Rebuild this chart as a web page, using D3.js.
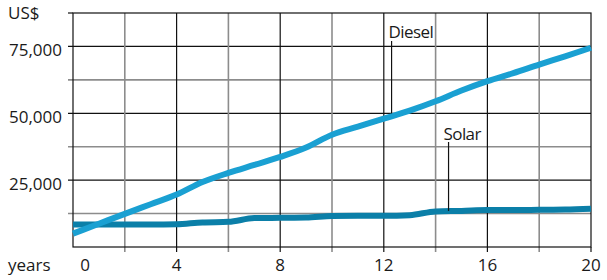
<!DOCTYPE html>
<html>
<head>
<meta charset="utf-8">
<script src="https://cdn.jsdelivr.net/npm/d3@7"></script>
<style>
  body { margin: 0; background: #fff; }
  text { font-family: 'Open Sans', sans-serif; fill: #1a1a1a; }
</style>
</head>
<body>
<div id="chart"></div>
<script>
const years = d3.range(0, 21)
const diesel = [5000, 8700, 12400, 16000, 19600, 24300, 27700, 30700, 33700, 37200, 42000,
  45000, 48000, 51000, 54500, 58500, 62000, 65000, 68200, 71300, 74500]
const solar = [8400, 8400, 8400, 8400, 8500, 9200, 9400, 10800, 10900, 11000, 11600,
  11700, 11700, 11900, 13300, 13500, 13800, 13800, 13900, 14000, 14300]
const yTicks = [25000, 50000, 75000]
const xTicks = [0, 4, 8, 12, 16, 20]

const margin = { top: 13, left: 73, right: 16, bottom: 33 }
const width = 607 - margin.left - margin.right
const height = 280 - margin.top - margin.bottom

const svg = d3
  .select('#chart')
  .append('svg')
  .attr('width', 607)
  .attr('height', 280)
  .append('g')
  .attr('transform', 'translate(' + margin.left + ',' + margin.top + ')')

const x = d3.scaleLinear().domain([0, 20]).range([0, width])
const y = d3.scaleLinear().domain([0, 87500]).range([height, 0])

// grid: labelled lines black, in-between ones grey
const major = '#111'
const minor = '#8c8c8c'
d3.range(12500, 87500, 12500).forEach(v => {
  const isMajor = yTicks.includes(v)
  svg.append('line')
    .attr('x1', -5).attr('x2', width)
    .attr('y1', y(v)).attr('y2', y(v))
    .attr('stroke', isMajor ? major : minor)
    .attr('stroke-width', isMajor ? 1.2 : 1.6)
})
d3.range(2, 20, 2).forEach(v => {
  const isMajor = xTicks.includes(v)
  svg.append('line')
    .attr('x1', x(v)).attr('x2', x(v))
    .attr('y1', 0).attr('y2', height + 5)
    .attr('stroke', isMajor ? major : minor)
    .attr('stroke-width', isMajor ? 1.2 : 1.6)
})

// frame
svg.append('rect')
  .attr('width', width).attr('height', height)
  .attr('fill', 'none').attr('stroke', major).attr('stroke-width', 1.2)
svg.append('line')
  .attr('x1', -5).attr('x2', 0).attr('y1', 0).attr('y2', 0)
  .attr('stroke', major).attr('stroke-width', 1.2)
svg.append('line')
  .attr('x1', width).attr('x2', width).attr('y1', height).attr('y2', height + 5)
  .attr('stroke', major).attr('stroke-width', 1.2)

// tick labels
svg.selectAll('.ylab')
  .data(yTicks)
  .enter()
  .append('text')
  .attr('x', -11)
  .attr('y', d => y(d) + 9.5)
  .attr('text-anchor', 'end')
  .style('font-size', '17px')
  .text(d => d3.format(',')(d))

svg.selectAll('.xlab')
  .data(xTicks)
  .enter()
  .append('text')
  .attr('x', d => (d === 0 ? x(d) + 12 : x(d)))
  .attr('y', height + 24)
  .attr('text-anchor', 'middle')
  .style('font-size', '17px')
  .text(d => d)

svg.append('text').attr('x', -65).attr('y', height + 24)
  .style('font-size', '17px').text('years')
svg.append('text').attr('x', -65).attr('y', 6)
  .style('font-size', '17px').text('US$')

// lines
const line = d3.line()
  .x((d, i) => x(years[i]))
  .y(d => y(d))
  .curve(d3.curveMonotoneX)

svg.append('path').datum(solar)
  .attr('d', line)
  .attr('fill', 'none')
  .attr('stroke', '#0b7fa8')
  .attr('stroke-width', 6)

svg.append('path').datum(diesel)
  .attr('d', line)
  .attr('fill', 'none')
  .attr('stroke', '#1aa0d2')
  .attr('stroke-width', 6)

// labels with pointers
svg.append('line')
  .attr('x1', x(12.3)).attr('x2', x(12.3))
  .attr('y1', 28).attr('y2', y(50000))
  .attr('stroke', '#111').attr('stroke-width', 1.2)
svg.append('text').attr('x', x(12.3) - 3).attr('y', 25)
  .style('font-size', '17px').style('letter-spacing', '-0.6px').text('Diesel')

svg.append('line')
  .attr('x1', x(14.5)).attr('x2', x(14.5))
  .attr('y1', 129).attr('y2', y(13500))
  .attr('stroke', '#111').attr('stroke-width', 1.2)
svg.append('text').attr('x', x(14.5) - 5).attr('y', 127)
  .style('font-size', '17px').style('letter-spacing', '-0.6px').text('Solar')
</script>
</body>
</html>
